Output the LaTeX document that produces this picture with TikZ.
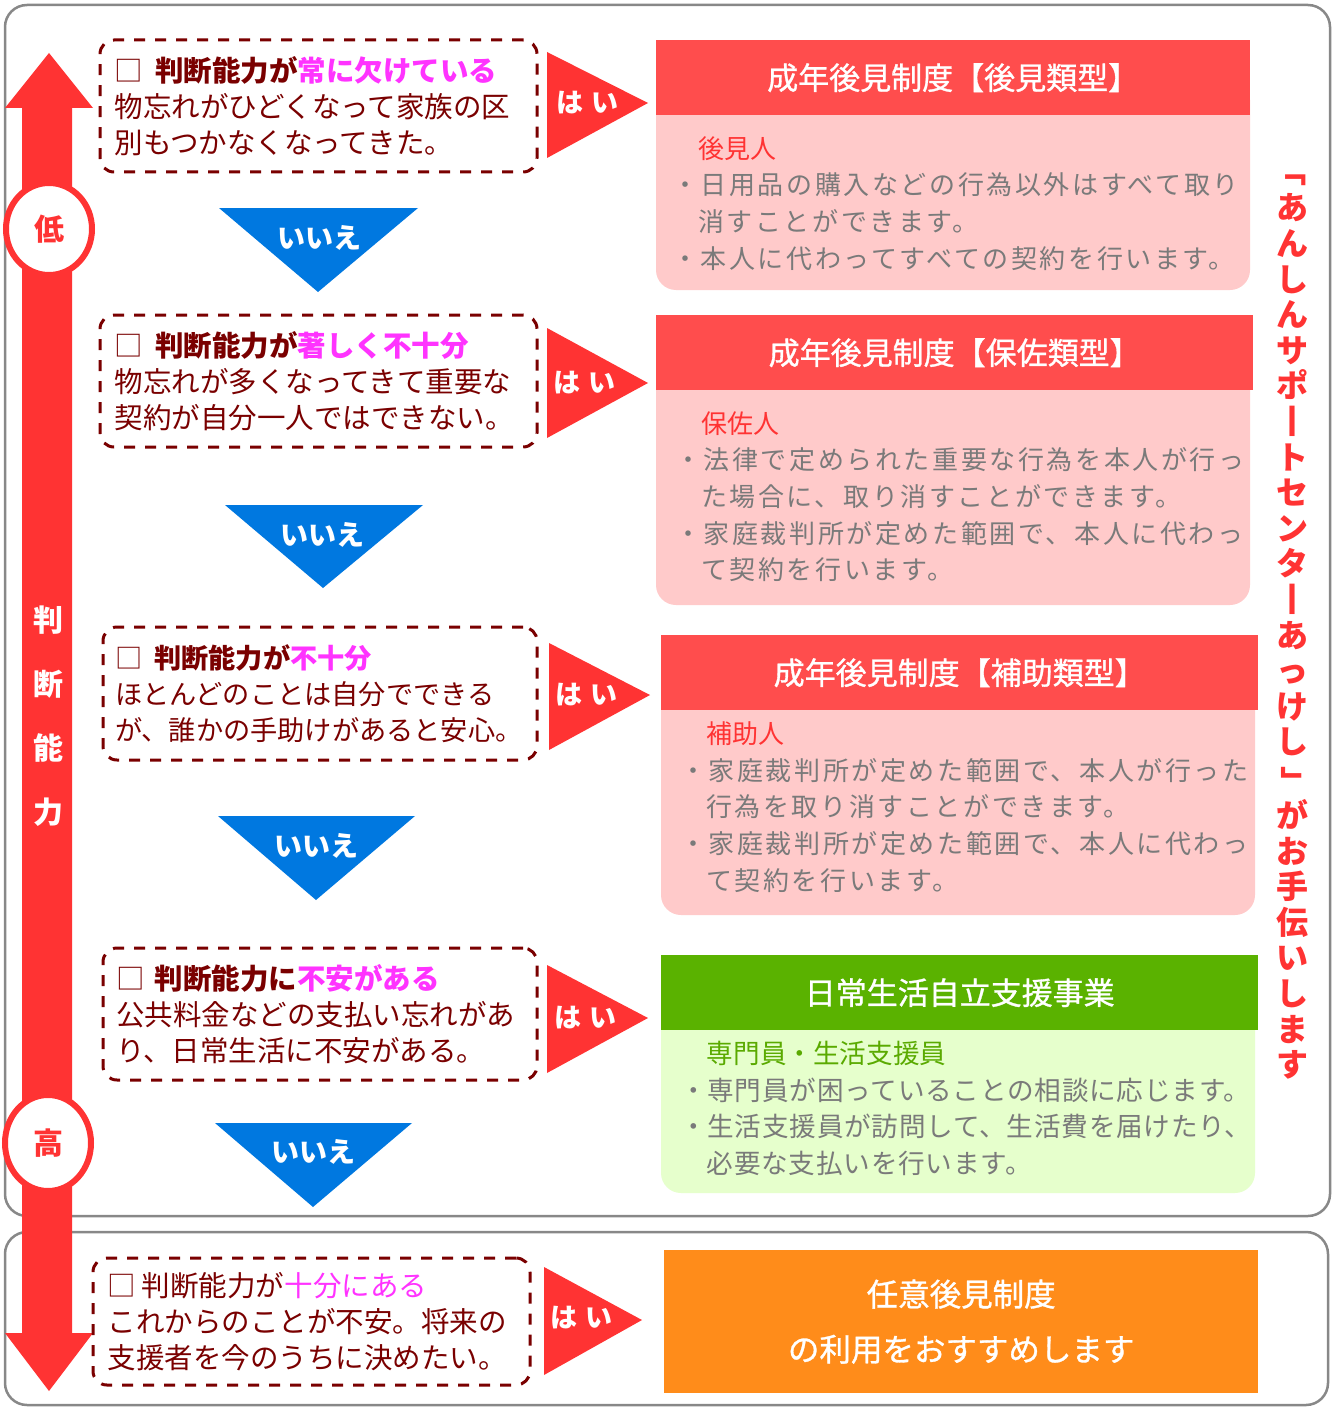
\documentclass[tikz,border=0pt]{standalone}
\usepackage{fontspec}
\usepackage{graphicx}
\setmainfont{Noto Sans CJK JP}
\newfontfamily\spacedfont{Noto Sans CJK JP}[LetterSpace=10]
\newfontfamily\greenfont{Noto Sans CJK JP}[LetterSpace=3]
\newfontfamily\medfont{Noto Sans CJK JP}[FakeBold=1]
\usetikzlibrary{shapes.geometric}
\definecolor{arrowred}{HTML}{FF3333}
\definecolor{qred}{HTML}{7A0000}
\definecolor{qpink}{HTML}{FF33FF}
\definecolor{noblue}{HTML}{0078E0}
\definecolor{hdrred}{HTML}{FF4D4D}
\definecolor{bodypink}{HTML}{FFCACA}
\definecolor{bodygray}{HTML}{7A7A7A}
\definecolor{hdrgreen}{HTML}{5AB200}
\definecolor{bodygreen}{HTML}{E6FFCC}
\definecolor{lblgreen}{HTML}{5AAA00}
\definecolor{boxorange}{HTML}{FF8C1A}
\definecolor{framegray}{HTML}{888888}
\newcommand\myfs[2]{\fontsize{#1}{#2}\selectfont}
\newcommand\vbr[1]{\rotatebox[origin=c]{-90}{#1}}
\begin{document}
\begin{tikzpicture}[x=1pt,y=-1pt,
  frame/.style={draw=framegray,line width=2.5,rounded corners=22},
  qbox/.style={draw=qred,line width=3,dash pattern=on 11pt off 10pt,rounded corners=14,
    align=left,inner sep=0,text=qred,font=\myfs{28.5}{36},minimum width=437,minimum height=132,text width=408},
  yes/.style={fill=arrowred},
  yestext/.style={text=white,font=\bfseries\myfs{27}{27},inner sep=0},
  no/.style={fill=noblue},
  notext/.style={text=white,font=\bfseries\myfs{28}{28},inner sep=0},
  hdr/.style={text=white,font=\medfont\myfs{31}{31},inner sep=0,anchor=north west,minimum height=75},
  bodytxt/.style={text=bodygray,anchor=west,align=left,inner sep=0,font=\spacedfont\myfs{26}{36.7}},
  lvl/.style={ellipse,draw=arrowred,line width=6,fill=white,inner sep=0,text=arrowred,font=\bfseries\myfs{30}{30}}
]
\useasboundingbox (0,0) rectangle (1340,1407);
\fill[white] (0,0) rectangle (1340,1407);

% frames
\draw[frame] (5,5) rectangle (1330,1216);
\draw[frame] (5,1232) rectangle (1328,1405);

% big red double arrow
\fill[arrowred] (49,53) -- (93,108) -- (72,108) -- (72,1333) -- (93,1333) -- (49,1391)
  -- (5,1333) -- (22,1333) -- (22,108) -- (5,108) -- cycle;
\node[lvl,minimum width=86,minimum height=92] (low) at (49,229) {低};
\node[lvl,minimum width=86,minimum height=96] (high) at (48,1143) {高};
\node[text=white,font=\bfseries\myfs{30}{64},align=center,inner sep=0] (jl) at (48,716) {判\\断\\能\\力};

% question boxes
\node[qbox] (q1) at (318.5,106) {□\hspace{12pt}{\bfseries 判断能力が}{\bfseries\color{qpink}常に欠けている}\\物忘れがひどくなって家族の区\\別もつかなくなってきた。};
\node[qbox] (q2) at (318.5,381) {□\hspace{12pt}{\bfseries 判断能力が}{\bfseries\color{qpink}著しく不十分}\\物忘れが多くなってきて重要な\\契約が自分一人ではできない。};
\node[qbox,minimum width=434,minimum height=133,text width=410,font=\myfs{27.2}{36}] (q3) at (320,693.5) {□\hspace{12pt}{\bfseries 判断能力が}{\bfseries\color{qpink}不十分}\\ほとんどのことは自分でできる\\が、誰かの手助けがあると安心。};
\node[qbox,minimum width=434] (q4) at (320,1014) {□\hspace{10pt}{\bfseries 判断能力に}{\bfseries\color{qpink}不安がある}\\公共料金などの支払い忘れがあ\\り、日常生活に不安がある。};
\node[qbox,minimum height=127] (q5) at (311.5,1321.5) {□\hspace{6pt}判断能力が{\color{qpink}十分にある}\\これからのことが不安。将来の\\支援者を今のうちに決めたい。};

% yes arrows
\fill[yes] (547,52) -- (648,103) -- (547,158) -- cycle;
\node[yestext] (y1) at (587,103) {は\hspace{8pt}い};
\fill[yes] (547,328) -- (648,383) -- (547,438) -- cycle;
\node[yestext] (y2) at (584,383) {は\hspace{8pt}い};
\fill[yes] (549,643) -- (650,695) -- (549,750) -- cycle;
\node[yestext] (y3) at (586,695) {は\hspace{8pt}い};
\fill[yes] (547,965) -- (648,1018) -- (547,1073) -- cycle;
\node[yestext] (y4) at (585,1018) {は\hspace{8pt}い};
\fill[yes] (544,1267) -- (642,1320) -- (544,1375) -- cycle;
\node[yestext] (y5) at (581,1318) {は\hspace{8pt}い};

% no arrows
\fill[no] (219,208) -- (418,208) -- (318,292) -- cycle;
\node[notext] (n1) at (319,238) {いいえ};
\fill[no] (225,505) -- (423,505) -- (323,588) -- cycle;
\node[notext] (n2) at (322,535) {いいえ};
\fill[no] (218,816) -- (415,816) -- (316,900) -- cycle;
\node[notext] (n3) at (316,846) {いいえ};
\fill[no] (215,1123) -- (412,1123) -- (313,1207) -- cycle;
\node[notext] (n4) at (313,1152) {いいえ};

% result A
\fill[bodypink,rounded corners=20] (656,80) rectangle (1250,290);
\node[hdr,fill=hdrred,minimum width=594] (hA) at (656,40) {成年後見制度【後見類型】};
\node[bodytxt] (tA) at (672,203.3) {{\normalfont\color{arrowred}\phantom{・}後見人}\\・日用品の購入などの行為以外はすべて取り\\\phantom{・}消すことができます。\\・本人に代わってすべての契約を行います。};

% result B
\fill[bodypink,rounded corners=20] (656,350) rectangle (1250,605);
\node[hdr,fill=hdrred,minimum width=597] (hB) at (656,315) {成年後見制度【保佐類型】};
\node[bodytxt] (tB) at (675,496.6) {{\normalfont\color{arrowred}\phantom{・}保佐人}\\・法律で定められた重要な行為を本人が行っ\\\phantom{・}た場合に、取り消すことができます。\\・家庭裁判所が定めた範囲で、本人に代わっ\\\phantom{・}て契約を行います。};

% result C
\fill[bodypink,rounded corners=20] (661,670) rectangle (1255,915);
\node[hdr,fill=hdrred,minimum width=597] (hC) at (661,635) {成年後見制度【補助類型】};
\node[bodytxt] (tC) at (680,807) {{\normalfont\color{arrowred}\phantom{・}補助人}\\・家庭裁判所が定めた範囲で、本人が行った\\\phantom{・}行為を取り消すことができます。\\・家庭裁判所が定めた範囲で、本人に代わっ\\\phantom{・}て契約を行います。};

% result D
\fill[bodygreen,rounded corners=20] (661,990) rectangle (1255,1193);
\node[hdr,fill=hdrgreen,minimum width=597] (hD) at (661,955) {日常生活自立支援事業};
\node[bodytxt,font=\greenfont\myfs{26.6}{36.4}] (tD) at (680,1108.5) {{\normalfont\color{lblgreen}\phantom{・}専門員・生活支援員}\\・専門員が困っていることの相談に応じます。\\・生活支援員が訪問して、生活費を届けたり、\\\phantom{・}必要な支払いを行います。};

% result E
\node[fill=boxorange,minimum width=594,minimum height=143,anchor=north west,inner sep=0,
  text=white,align=center,font=\medfont\myfs{31.5}{55}] (hE) at (664,1250) {任意後見制度\\の利用をおすすめします};

% vertical caption
\node[text=arrowred,font=\bfseries\myfs{32}{35.6},align=center,inner sep=0] (vt) at (1292,617)
  {\vbr{「}\\あ\\ん\\し\\ん\\サ\\ポ\\丨\\ト\\セ\\ン\\タ\\丨\\あ\\っ\\け\\し\\\vbr{」}\\が\\お\\手\\伝\\い\\し\\ま\\す};
\end{tikzpicture}
\end{document}
